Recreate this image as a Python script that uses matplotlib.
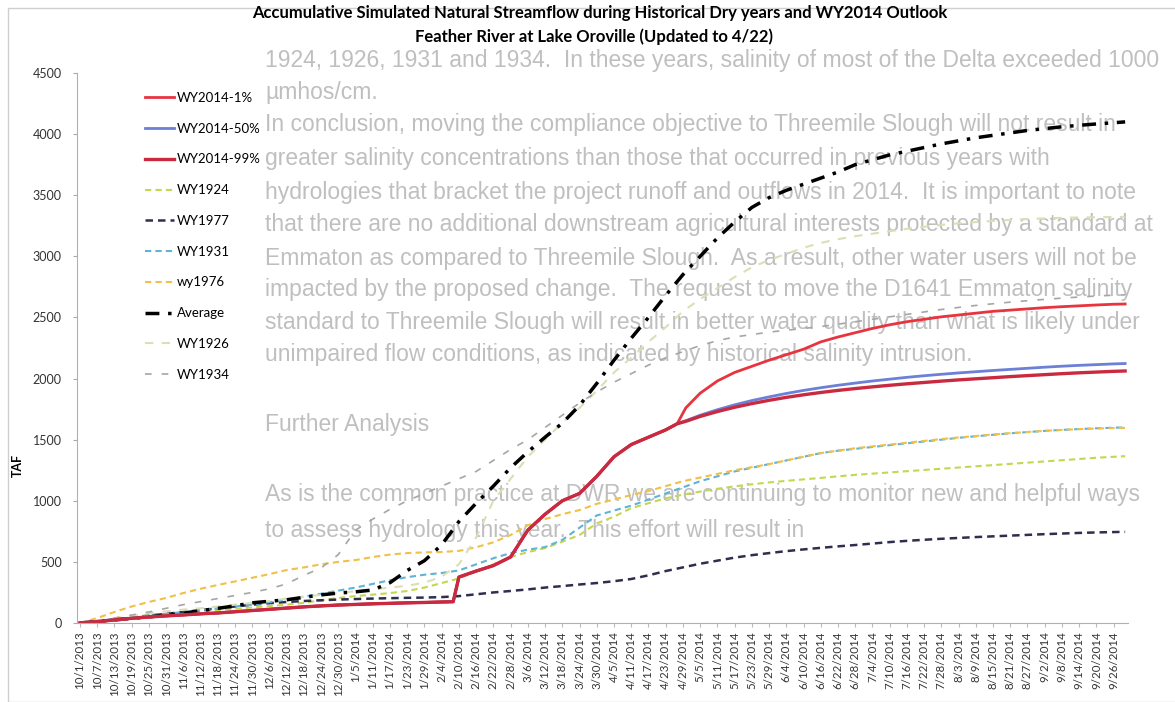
import matplotlib
matplotlib.use('Agg')
import matplotlib.pyplot as plt
from matplotlib.patches import Rectangle
import pandas as pd

# x positions in days after 10/1/2013
days = list(range(0, 361, 6)) + [364]
obs_days = list(range(0, 127, 6)) + [130, 132] + list(range(138, 205, 6)) + [208]
fc_days = [208, 211] + list(range(216, 361, 6)) + [364]

tick_dates = pd.date_range('2013-10-01', '2014-09-26', freq='6D')
tick_labels = [f"{d.month}/{d.day}/{d.year}" for d in tick_dates]
tick_pos = list(range(0, 361, 6))

# WY2014 observed (to 4/22) and forecasts (TAF)
wy2014_obs = [0, 10, 25, 38, 49, 58, 66, 75, 82, 92, 102, 112, 122, 132, 140, 147, 152, 157, 161, 165, 168, 172,
              174, 376, 425, 470, 540, 760, 890, 1000, 1060, 1200, 1360, 1460, 1520, 1580, 1630]
wy2014_1 = [1630, 1760, 1880, 1980, 2050, 2100, 2150, 2195, 2240, 2300, 2340, 2375, 2410, 2440, 2465, 2485,
            2505, 2520, 2535, 2550, 2560, 2570, 2580, 2588, 2595, 2602, 2608, 2610]
wy2014_50 = [1630, 1655, 1700, 1745, 1785, 1820, 1850, 1878, 1903, 1925, 1945, 1963, 1980, 1995, 2010, 2023,
             2035, 2046, 2056, 2066, 2075, 2084, 2093, 2101, 2108, 2114, 2120, 2123]
wy2014_99 = [1630, 1650, 1690, 1730, 1765, 1795, 1822, 1846, 1867, 1886, 1903, 1918, 1932, 1945, 1957, 1968,
             1979, 1989, 1998, 2007, 2016, 2024, 2032, 2040, 2047, 2053, 2059, 2062]

# historical years (TAF)
wy1924 = [0, 12, 28, 45, 65, 75, 86, 96, 106, 116, 127, 138, 150, 165, 185, 205, 220, 232, 245, 262,
          290, 327, 365, 420, 480, 540, 580, 613, 665, 720, 815, 870, 940, 980, 1020, 1050, 1075, 1098, 1118, 1135,
          1150, 1163, 1175, 1187, 1200, 1212, 1222, 1232, 1242, 1252, 1262, 1272, 1282, 1292, 1302, 1312, 1322, 1332,
          1342, 1352, 1360, 1365]
wy1977 = [0, 15, 30, 45, 60, 75, 90, 105, 120, 135, 150, 162, 172, 180, 186, 192, 196, 200, 203, 206,
          208, 212, 220, 235, 250, 262, 275, 290, 302, 315, 327, 342, 360, 390, 425, 455, 485, 510, 535, 555,
          572, 588, 602, 615, 627, 638, 650, 662, 672, 681, 689, 696, 703, 709, 715, 721, 727, 732, 737, 741, 744, 746]
wy1931 = [0, 15, 30, 45, 60, 75, 90, 105, 120, 135, 150, 170, 192, 215, 240, 265, 290, 320, 350, 375,
          395, 409, 430, 480, 530, 572, 600, 621, 680, 780, 880, 920, 960, 1010, 1060, 1110, 1160, 1200, 1240, 1270,
          1300, 1330, 1360, 1390, 1410, 1425, 1440, 1455, 1470, 1485, 1500, 1515, 1528, 1540, 1552, 1562, 1572, 1580,
          1587, 1593, 1598, 1600]
wy1976 = [0, 40, 90, 135, 172, 205, 245, 280, 311, 340, 370, 400, 433, 455, 480, 500, 515, 540, 560, 572,
          578, 581, 590, 620, 660, 720, 800, 850, 890, 924, 975, 1010, 1047, 1080, 1120, 1160, 1190, 1220, 1250, 1275,
          1300, 1330, 1360, 1390, 1410, 1430, 1445, 1460, 1475, 1490, 1505, 1518, 1530, 1542, 1553, 1563, 1572, 1580,
          1586, 1591, 1595, 1597]
average = [0, 12, 25, 38, 50, 65, 80, 100, 120, 140, 165, 178, 190, 210, 230, 245, 255, 270, 330, 430,
           510, 640, 830, 980, 1120, 1270, 1400, 1520, 1635, 1780, 1960, 2150, 2330, 2500, 2680, 2850, 3000, 3150,
           3280, 3400, 3480, 3540, 3590, 3640, 3690, 3750, 3790, 3830, 3860, 3890, 3920, 3945, 3970, 3990, 4010,
           4030, 4045, 4060, 4072, 4083, 4093, 4100]
wy1926 = [0, 20, 40, 60, 80, 95, 110, 120, 135, 150, 165, 180, 200, 215, 230, 245, 260, 275, 290, 305,
          330, 380, 480, 700, 1000, 1180, 1360, 1500, 1640, 1760, 1900, 2050, 2170, 2300, 2420, 2550, 2650, 2740,
          2830, 2910, 2970, 3020, 3070, 3110, 3140, 3165, 3185, 3205, 3225, 3242, 3258, 3270, 3280, 3290, 3298,
          3305, 3310, 3315, 3318, 3320, 3322, 3323]
wy1934 = [0, 20, 40, 65, 90, 120, 150, 175, 200, 225, 250, 280, 320, 390, 450, 560, 760, 850, 930, 1000,
          1060, 1120, 1180, 1240, 1330, 1420, 1500, 1600, 1700, 1800, 1890, 1970, 2040, 2110, 2170, 2220, 2270,
          2310, 2340, 2360, 2380, 2395, 2410, 2425, 2445, 2465, 2485, 2505, 2525, 2545, 2565, 2582, 2598, 2612,
          2625, 2637, 2648, 2658, 2667, 2675, 2682, 2685]

# faint text showing through from the scanned page
page_lines = [
    (61, "1924, 1926, 1931 and 1934.  In these years, salinity of most of the Delta exceeded 1000"),
    (92, "\u00b5mhos/cm."),
    (125, "In conclusion, moving the compliance objective to Threemile Slough will not result in"),
    (158, "greater salinity concentrations than those that occurred in previous years with"),
    (192, "hydrologies that bracket the project runoff and outflows in 2014.  It is important to note"),
    (225, "that there are no additional downstream agricultural interests protected by a standard at"),
    (258, "Emmaton as compared to Threemile Slough.  As a result, other water users will not be"),
    (290, "impacted by the proposed change.  The request to move the D1641 Emmaton salinity"),
    (322, "standard to Threemile Slough will result in better water quality than what is likely under"),
    (355, "unimpaired flow conditions, as indicated by historical salinity intrusion."),
    (425, "Further Analysis"),
    (495, "As is the common practice at DWR we are continuing to monitor new and helpful ways"),
    (530, "to assess hydrology this year.  This effort will result in"),
]

W, H = 1175, 702
fig = plt.figure(figsize=(W / 100, H / 100), dpi=100)
fig.patch.set_facecolor('white')

for yy, s in page_lines:
    fig.text(265 / W, 1 - yy / H, s, fontsize=16.5, family='Liberation Sans', color='#bfbfbf',
             va='center', ha='left', zorder=-1)

fig.patches.append(Rectangle((8 / W, 0), 1, 1 - 8 / H, transform=fig.transFigure, fill=False,
                             edgecolor='#cfcfcf', lw=1))

ax = fig.add_axes([77 / W, 1 - 623 / H, (1128 - 77) / W, (623 - 73) / H])
ax.set_facecolor('none')

ax.plot(days, wy1924, color='#c5d650', lw=1.5, ls=(0, (3, 2)), label='WY1924')
ax.plot(days, wy1977, color='#2e2e4e', lw=1.8, ls=(0, (3, 2)), label='WY1977')
ax.plot(days, wy1931, color='#5fb3d8', lw=1.5, ls=(0, (3, 2)), label='WY1931')
ax.plot(days, wy1976, color='#f0c048', lw=1.5, ls=(0, (3, 2)), label='wy1976')
ax.plot(days, wy1926, color='#dadfb4', lw=1.5, ls=(0, (4, 4)), label='WY1926')
ax.plot(days, wy1934, color='#a6a6a6', lw=1.2, ls=(0, (4, 6)), label='WY1934')
ax.plot(days, average, color='black', lw=2.5, ls=(0, (4, 2.5, 1, 2.5)), label='Average')

d_all = obs_days + fc_days[1:]
ax.plot(d_all, wy2014_obs + wy2014_50[1:], color='#6b80d6', lw=2.0, label='WY2014-50%')
ax.plot(d_all, wy2014_obs + wy2014_1[1:], color='#e8343e', lw=2.0, label='WY2014-1%')
ax.plot(d_all, wy2014_obs + wy2014_99[1:], color='#c92a40', lw=2.4, label='WY2014-99%')

ax.set_xlim(-1, 365)
ax.set_ylim(0, 4500)
ax.set_yticks(range(0, 4501, 500))
ax.set_xticks(tick_pos)
ax.set_xticklabels(tick_labels, rotation=90, fontsize=8.3, family='Lato', color='#333333')
for t in ax.get_yticklabels():
    t.set_fontsize(9)
    t.set_family('Lato')
    t.set_color('#333333')
ax.tick_params(axis='y', length=3, color='#aaaaaa', pad=8)
ax.tick_params(axis='x', length=3, color='#bbbbbb', pad=3)
for s in ['top', 'right']:
    ax.spines[s].set_visible(False)
for s in ['left', 'bottom']:
    ax.spines[s].set_color('#b0b0b0')

fig.text(18 / W, 1 - 465 / H, 'TAF', rotation=90, fontsize=9, fontweight='bold', family='Lato',
         ha='center', va='center')
fig.text(600 / W, 1 - 13 / H,
         'Accumulative Simulated Natural Streamflow during Historical Dry years and WY2014 Outlook',
         fontsize=12, fontweight='bold', family='Lato', ha='center', va='center')
fig.text(594 / W, 1 - 37 / H, 'Feather River at Lake Oroville (Updated to 4/22)',
         fontsize=12, fontweight='bold', family='Lato', ha='center', va='center')

order = ['WY2014-1%', 'WY2014-50%', 'WY2014-99%', 'WY1924', 'WY1977', 'WY1931', 'wy1976',
         'Average', 'WY1926', 'WY1934']
hl = dict((l, h) for h, l in zip(*ax.get_legend_handles_labels()))
leg = ax.legend([hl[k] for k in order], order, loc='upper left',
                bbox_to_anchor=(145 / W, 1 - 92 / H), bbox_transform=fig.transFigure,
                frameon=False, prop={'family': 'Lato', 'size': 9.5}, handlelength=2.2,
                handletextpad=0.2, labelspacing=1.42, borderpad=0, borderaxespad=0)

fig.savefig('out.png', dpi=100)
